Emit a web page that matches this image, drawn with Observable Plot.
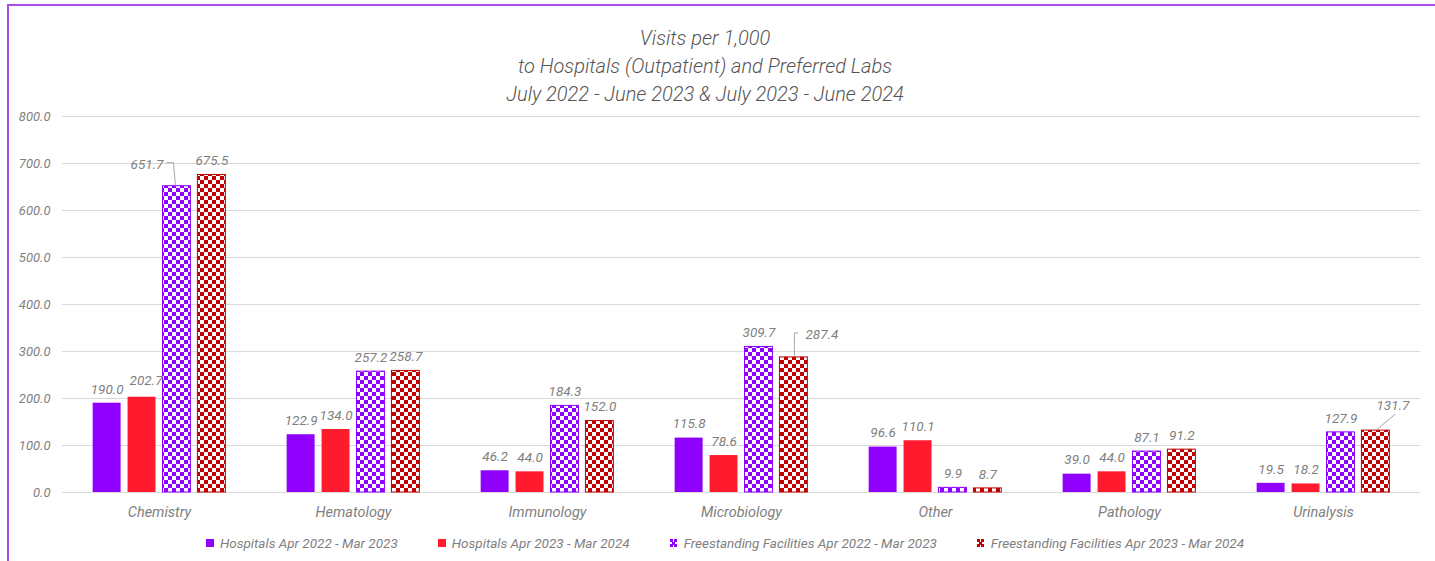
<!DOCTYPE html>
<html><head><meta charset="utf-8">
<script src="https://cdn.jsdelivr.net/npm/d3@7"></script>
<script src="https://cdn.jsdelivr.net/npm/@observablehq/plot@0.6"></script>
<style>
body{margin:0;background:#fff;font-family:Roboto,"Noto Sans",sans-serif;overflow:hidden;}
#frame{position:absolute;left:7px;top:4px;width:1600px;height:700px;border-left:2px solid #a64de6;border-top:2px solid #a64de6;pointer-events:none;}
#title{height:84px;padding-top:24px;text-align:center;font-size:20px;line-height:28px;font-style:italic;font-weight:300;color:#555;padding-right:25px;}
#chart svg{display:block;}
#legend{display:flex;justify-content:center;gap:40px;margin-top:11px;line-height:20px;font-size:13.5px;font-style:italic;color:#7f7f7f;padding-left:15px;}
#legend .item{display:flex;align-items:center;gap:6px;}
#legend svg{display:block;}
</style></head>
<body>
<div id="frame"></div>
<div id="title">Visits per 1,000<br>to Hospitals (Outpatient) and Preferred Labs<br>July 2022 - June 2023 &amp; July 2023 - June 2024</div>
<div id="chart"></div>
<div id="legend"></div>
<script>
const categories = ["Chemistry","Hematology","Immunology","Microbiology","Other","Pathology","Urinalysis"];
const seriesNames = ["Hospitals Apr 2022 - Mar 2023","Hospitals Apr 2023 - Mar 2024","Freestanding Facilities Apr 2022 - Mar 2023","Freestanding Facilities Apr 2023 - Mar 2024"];
const hosp2022 = [190.0,122.9,46.2,115.8,96.6,39.0,19.5];
const hosp2023 = [202.7,134.0,44.0,78.6,110.1,44.0,18.2];
const free2022 = [651.7,257.2,184.3,309.7,9.9,87.1,127.9];
const free2023 = [675.5,258.7,152.0,287.4,8.7,91.2,131.7];
const yTicks = [0,100,200,300,400,500,600,700,800];

const seriesValues = [hosp2022, hosp2023, free2022, free2023];
const PURPLE = "#8f00ff", RED = "#ff1a2e", DARKRED = "#c00000";
const fills = [PURPLE, RED, "url(#chkP)", "url(#chkR)"];
const outline = [null, null, PURPLE, DARKRED];

const STEP = 0.18, HALF = 0.072;
const rows = [];
categories.forEach((c, ci) => seriesValues.forEach((vals, si) => {
  const xc = ci + (si - 1.5) * STEP;
  rows.push({cat: c, ci, si, series: seriesNames[si], value: vals[ci], xc, x1: xc - HALF, x2: xc + HALF});
}));

// label placement (pixels) for labels moved off their bar, with leader lines
const labelMoves = {"0-1": [4, -17], "0-2": [-30, -22], "3-3": [28, -23], "6-3": [17, -25]};
const leaders = {"0-2": [[-1,0],[-3,-23],[-10,-23]], "3-3": [[1,0],[1,-24],[5,-24]], "6-3": [[2,-1],[20,-16]]};
const key = d => `${d.ci}-${d.si}`;

const font = "Roboto, 'Noto Sans', sans-serif";
const labelMarks = [
  Plot.text(rows.filter(d => !labelMoves[key(d)]), {x: "xc", y: "value", text: d => d.value.toFixed(1), dy: -14, fill: "#7f7f7f", fontSize: 13.5})
];
for (const k in labelMoves) {
  const [dx, dy] = labelMoves[k];
  labelMarks.push(Plot.text(rows.filter(d => key(d) === k), {x: "xc", y: "value", text: d => d.value.toFixed(1), dx, dy, fill: "#7f7f7f", fontSize: 13.5}));
}

const chart = Plot.plot({
  width: 1435, height: 414,
  marginLeft: 62, marginRight: 15, marginTop: 8, marginBottom: 30,
  style: {fontFamily: font, fontSize: "13px", fontStyle: "italic", color: "#7f7f7f", background: "transparent", overflow: "visible"},
  x: {type: "linear", domain: [-0.5, categories.length - 0.5]},
  y: {domain: [0, 800]},
  color: {type: "ordinal", domain: seriesNames, range: fills},
  marks: [
    Plot.gridY(yTicks, {stroke: "#d9d9d9", strokeOpacity: 1}),
    Plot.axisY({ticks: yTicks, tickFormat: d3.format(".1f"), tickSize: 0, tickPadding: 12, label: null}),
    Plot.axisX({ticks: d3.range(categories.length), tickFormat: i => categories[i], tickSize: 0, tickPadding: 14, label: null, fontSize: 14.5}),
    Plot.rectY(rows, {x1: "x1", x2: "x2", y: "value", fill: "series"}),
    Plot.rectY(rows.filter(d => outline[d.si]), {x1: "x1", x2: "x2", y: "value", fill: "none", stroke: d => outline[d.si], strokeWidth: 1}),
    ...labelMarks
  ]
});

const svg = d3.select(chart);
svg.insert("defs", ":first-child").html(`
  <pattern id="chkP" width="8" height="8" patternUnits="userSpaceOnUse">
    <rect width="8" height="8" fill="#fff"/><rect width="4" height="4" fill="${PURPLE}"/><rect x="4" y="4" width="4" height="4" fill="${PURPLE}"/>
  </pattern>
  <pattern id="chkR" width="8" height="8" patternUnits="userSpaceOnUse">
    <rect width="8" height="8" fill="#fff"/><rect width="4" height="4" fill="${DARKRED}"/><rect x="4" y="4" width="4" height="4" fill="${DARKRED}"/>
  </pattern>`);

function scaleFn(name) {
  const s = chart.scale(name);
  if (s.apply) return v => s.apply(v);
  return d3.scaleLinear(s.domain, s.range);
}
const sx = scaleFn("x"), sy = scaleFn("y");
for (const k in leaders) {
  const d = rows.find(r => key(r) === k);
  const bx = sx(d.xc), by = sy(d.value);
  svg.append("path")
    .attr("d", d3.line()(leaders[k].map(([dx, dy]) => [bx + dx, by + dy])))
    .attr("fill", "none").attr("stroke", "#a6a6a6").attr("stroke-width", 1);
}
document.getElementById("chart").appendChild(chart);

// legend
const legend = d3.select("#legend");
seriesNames.forEach((name, si) => {
  const item = legend.append("div").attr("class", "item");
  const m = item.append("svg").attr("width", 8).attr("height", 8);
  if (si < 2) {
    m.append("rect").attr("width", 8).attr("height", 8).attr("fill", fills[si]);
  } else {
    const c = outline[si];
    m.append("rect").attr("width", 8).attr("height", 8).attr("fill", "#fff");
    [[0,0],[4,0],[2,3],[0,5],[4,5]].forEach(([x, y]) => m.append("rect").attr("x", x).attr("y", y).attr("width", 3).attr("height", 3).attr("fill", c));
  }
  item.append("span").text(name);
});
</script>
</body></html>
